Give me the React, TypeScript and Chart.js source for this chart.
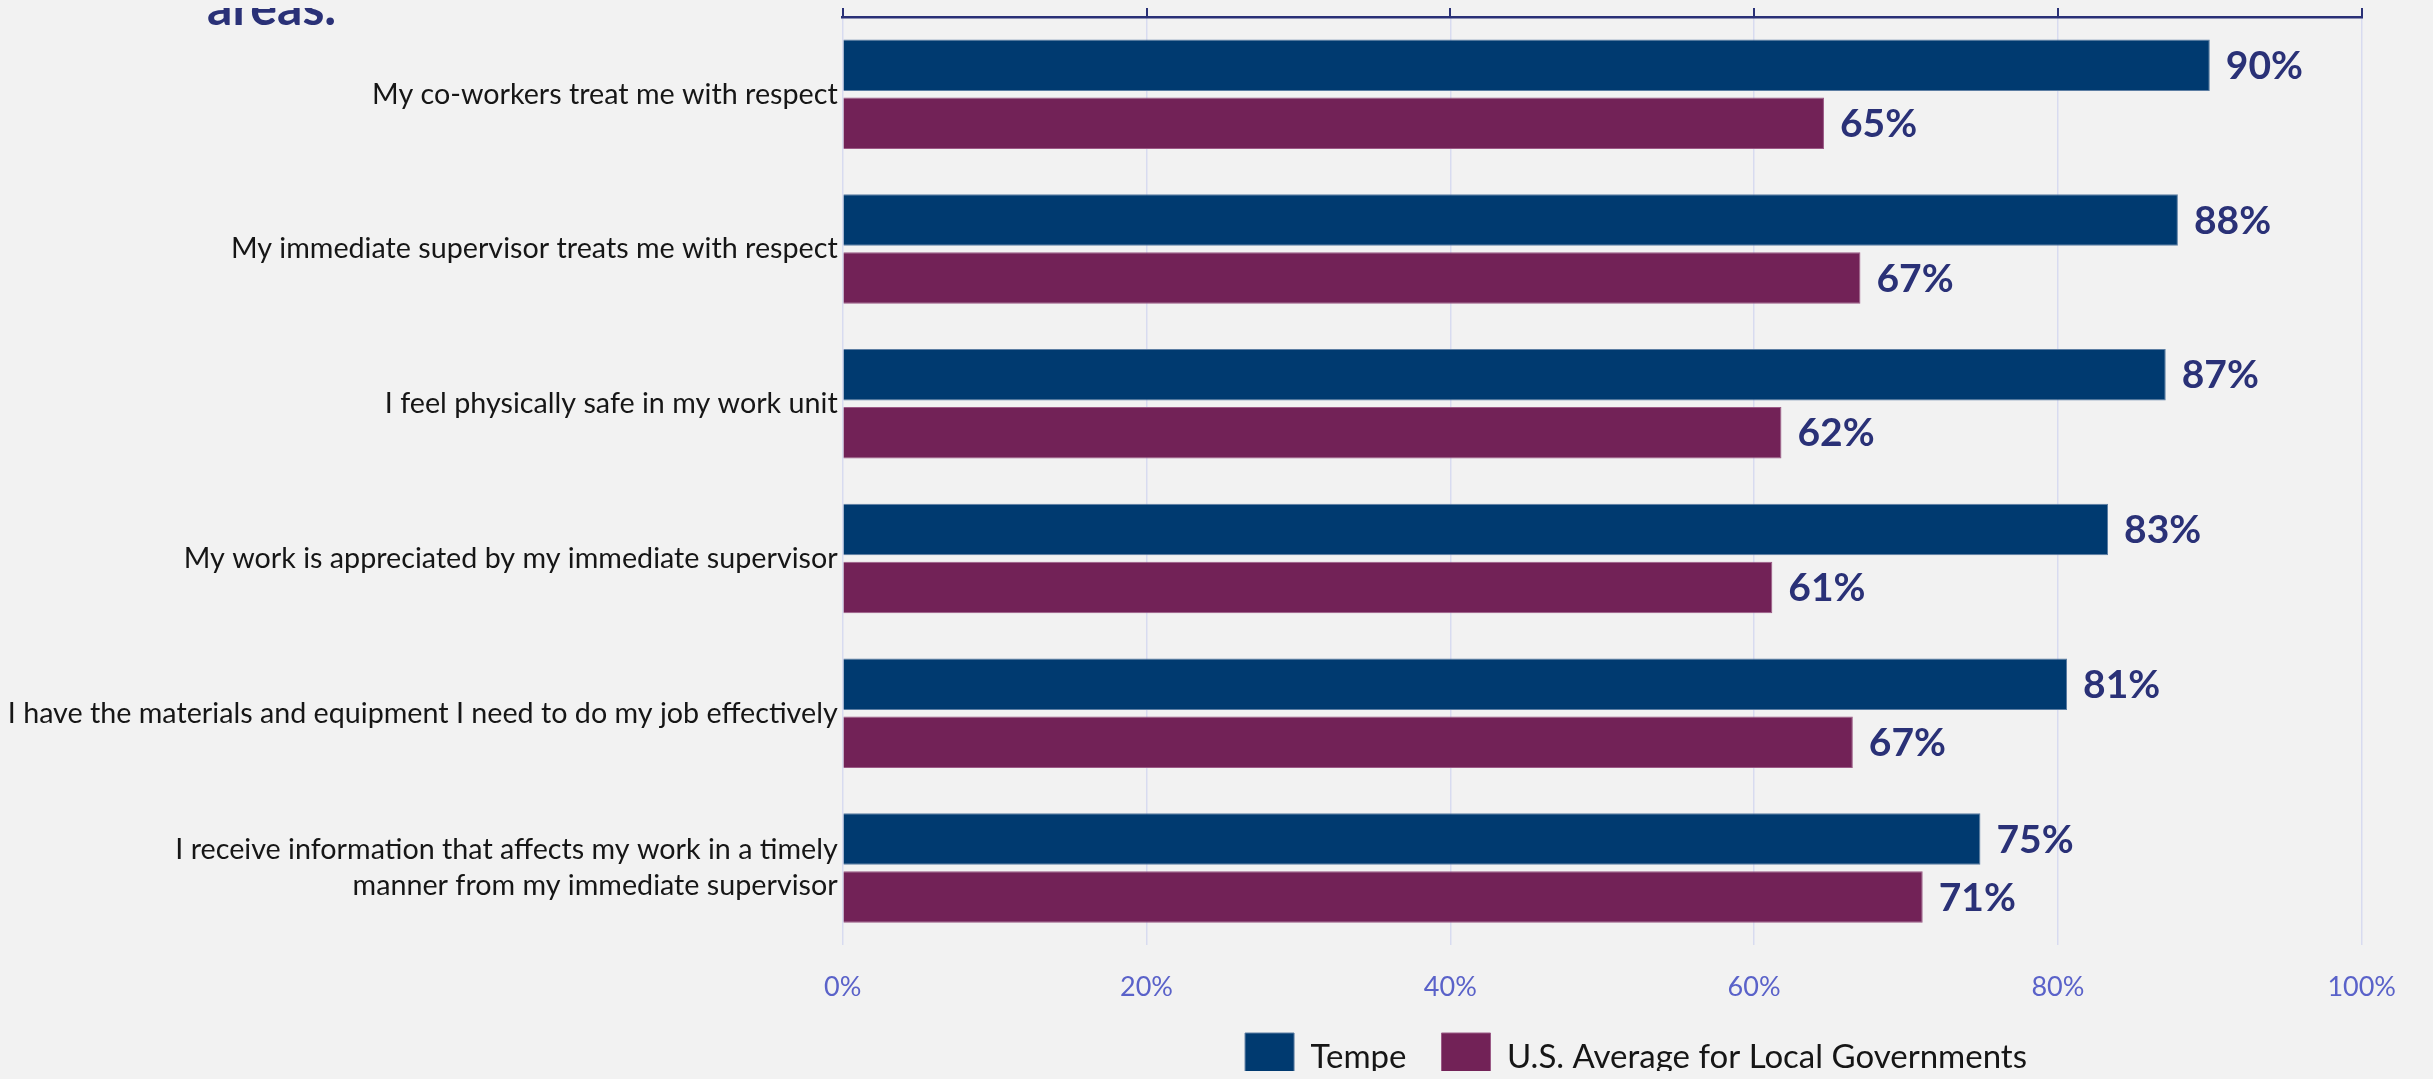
import { useEffect, useRef } from 'react';
import { Chart, registerables } from 'chart.js';

Chart.register(...registerables);

const categories: (string | string[])[] = [
  'My co-workers treat me with respect',
  'My immediate supervisor treats me with respect',
  'I feel physically safe in my work unit',
  'My work is appreciated by my immediate supervisor',
  'I have the materials and equipment I need to do my job effectively',
  ['I receive information that affects my work in a timely', 'manner from my immediate supervisor'],
];
const tempeValues = [90.0, 87.9, 87.1, 83.3, 80.6, 74.9];
const usAverageValues = [64.6, 67.0, 61.8, 61.2, 66.5, 71.1];
const seriesNames = ['Tempe', 'U.S. Average for Local Governments'];
const titleLastLine = 'areas.';

const FONT = 'Lato, "Noto Sans", sans-serif';
const TEMPE = '#003a70';
const USAVG = '#722257';
const NAVY = '#2a3177';

const CANVAS_W = 2417;
const CANVAS_H = 1116;

export default function App() {
  const ref = useRef<HTMLCanvasElement | null>(null);

  useEffect(() => {
    document.body.style.background = '#f2f2f2';
    document.documentElement.style.overflow = 'hidden';
    const canvas = ref.current!;
    const valueLabels = {
      id: 'valueLabels',
      afterDatasetsDraw(chart: any) {
        const ctx = chart.ctx;
        ctx.save();
        ctx.font = `bold 39px ${FONT}`;
        ctx.fillStyle = NAVY;
        ctx.textAlign = 'left';
        ctx.textBaseline = 'middle';
        chart.data.datasets.forEach((ds: any, di: number) => {
          const meta = chart.getDatasetMeta(di);
          meta.data.forEach((bar: any, i: number) => {
            ctx.fillText(Math.round(ds.data[i]) + '%', bar.x + 16, bar.y + 1);
          });
        });
        ctx.restore();
      },
    };
    const titlePlugin = {
      id: 'titleLine',
      afterDraw(chart: any) {
        const ctx = chart.ctx;
        ctx.save();
        ctx.font = `bold 50px ${FONT}`;
        ctx.fillStyle = NAVY;
        ctx.textAlign = 'left';
        ctx.textBaseline = 'alphabetic';
        ctx.fillText(titleLastLine, 199, 49);
        ctx.restore();
      },
    };
    const legendShift = {
      id: 'legendShift',
      afterUpdate(chart: any) {
        const lg = chart.legend;
        if (!lg || !lg.legendHitBoxes || !lg.legendHitBoxes.length) return;
        const hb = lg.legendHitBoxes;
        const first = hb[0];
        const last = hb[hb.length - 1];
        const center = (first.left + last.left + last.width) / 2;
        const shift = 1628 - center;
        lg.left += shift;
        lg.right += shift;
        lg.adjustHitBoxes();
      },
    };

    const chart = new Chart(canvas, {
      type: 'bar',
      data: {
        labels: categories,
        datasets: [
          {
            label: seriesNames[0],
            data: tempeValues,
            backgroundColor: TEMPE,
            borderColor: '#5d7ea3',
            borderWidth: 1,
            barPercentage: 0.887,
            categoryPercentage: 0.75,
          },
          {
            label: seriesNames[1],
            data: usAverageValues,
            backgroundColor: USAVG,
            borderColor: '#9b5a86',
            borderWidth: 1,
            barPercentage: 0.887,
            categoryPercentage: 0.75,
          },
        ],
      },
      options: {
        indexAxis: 'y',
        animation: false,
        responsive: false,
        maintainAspectRatio: false,
        layout: { padding: { top: 10, left: 0, right: 63.3, bottom: 0 } },
        scales: {
          x: {
            position: 'bottom',
            min: 0,
            max: 100,
            ticks: {
              stepSize: 20,
              padding: 25.5,
              color: '#5a62c9',
              font: { family: FONT, size: 27 },
              callback: (v: any) => v + '%',
            },
            grid: { color: '#d8dbf0', lineWidth: 1.5, drawTicks: false },
            border: { display: false },
            afterFit: (s: any) => {
              s.height = 52.6;
            },
          },
          x2: {
            type: 'linear',
            position: 'top',
            display: true,
            min: 0,
            max: 100,
            ticks: { display: false, stepSize: 20 },
            grid: { drawOnChartArea: false, drawTicks: true, tickLength: 9, color: NAVY, lineWidth: 2 },
            border: { display: true, color: NAVY, width: 2.5 },
            afterFit: (s: any) => {
              s.height = 29;
            },
          },
          y: {
            grid: { display: false, drawTicks: false },
            border: { display: false },
            ticks: {
              padding: 5,
              color: '#161616',
              font: { family: FONT, size: 28.7, lineHeight: 1.25 },
            },
            afterFit: (s: any) => {
              s.width = 834.7;
            },
          },
        },
        plugins: {
          legend: {
            position: 'bottom',
            labels: {
              boxWidth: 49,
              boxHeight: 49,
              padding: 35,
              color: '#161616',
              font: { family: FONT, size: 33 },
            },
          },
          tooltip: { enabled: false },
          title: { display: false },
        },
      },
      plugins: [valueLabels, titlePlugin, legendShift],
    } as any);
    return () => chart.destroy();
  }, []);

  return (
    <div
      style={{
        position: 'relative',
        margin: -8,
        width: 2433,
        height: 1079,
        overflow: 'hidden',
        background: '#f2f2f2',
      }}
    >
      <canvas
        ref={ref}
        width={CANVAS_W}
        height={CANVAS_H}
        style={{ position: 'absolute', left: 8, top: -24, width: CANVAS_W, height: CANVAS_H }}
      />
    </div>
  );
}
